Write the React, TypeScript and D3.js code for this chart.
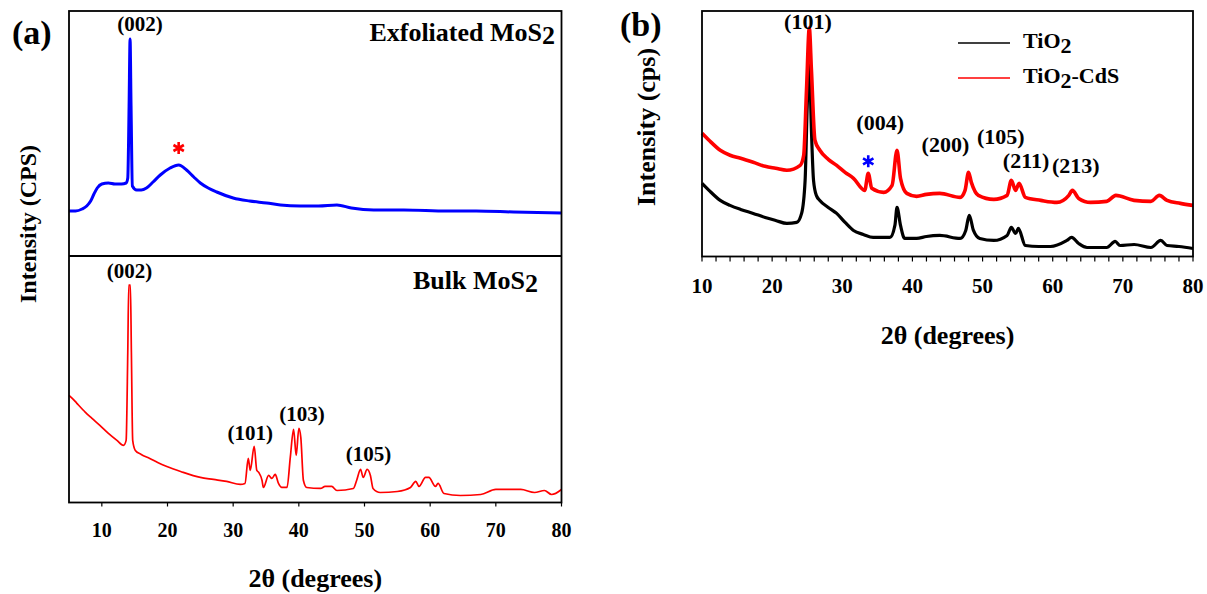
import React from "react";
import * as d3 from "d3";

// ---------- data (2θ, intensity a.u.) ----------
const exfoliatedMoS2: [number, number][] = [
  [5, 45], [6, 45], [7, 47], [7.7, 50], [8.3, 55], [8.8, 62], [9.3, 68], [10.0, 72], [11, 73], [12, 72],
  [13, 72], [13.7, 73], [13.95, 78], [14.15, 150], [14.3, 217], [14.45, 150], [14.65, 70], [15.3, 66],
  [16.0, 66], [16.8, 68], [17.8, 74], [18.9, 81], [20.4, 88], [21.7, 91], [22.9, 86], [24.0, 79], [25, 73],
  [26.2, 68], [27.5, 64], [30, 58], [32.5, 55], [35.1, 53], [37.2, 51], [40.2, 50], [43, 50], [45.8, 51],
  [48, 48], [51.4, 46], [56, 46], [62.6, 45], [67, 45], [72.7, 44], [80, 43],
];

const bulkMoS2: [number, number][] = [
  [5, 107], [5.5, 104], [6.2, 99], [7.5, 90], [8.5, 84], [9.7, 77], [11, 69], [12.3, 62], [13.3, 57],
  [13.7, 62], [13.95, 150], [14.1, 217], [14.35, 217], [14.5, 150], [14.7, 62], [15.1, 52], [16, 48],
  [17.3, 44], [18.5, 40], [19.9, 36], [22, 31], [25, 25], [27, 23], [29, 21], [31.1, 18], [31.8, 19],
  [32.3, 44], [32.6, 32], [33.2, 56], [33.6, 32], [33.9, 30], [34.4, 22], [34.6, 15], [35.4, 27], [35.9, 24],
  [36.4, 28], [36.9, 19], [37.4, 15], [38.2, 15], [38.7, 45], [39.2, 73], [39.6, 47], [40.0, 74], [40.3, 65],
  [40.7, 22], [41.2, 15], [43.3, 14], [44.0, 16], [45.0, 16], [45.8, 12], [48.3, 14], [48.8, 22], [49.4, 33],
  [49.8, 25], [50.4, 33], [50.9, 27], [51.3, 14], [52.4, 10], [55, 11], [57.0, 15], [57.8, 21], [58.3, 16],
  [59.3, 25], [59.8, 25], [60.8, 16], [61.2, 19], [62.1, 9], [64.6, 7], [67.7, 8], [70, 13], [72.3, 13],
  [73.8, 13], [75.9, 10], [77.4, 12], [78.5, 8], [80, 13],
];

const tio2: [number, number][] = [
  [10, 73], [11, 66], [12.6, 56], [14, 51], [15.5, 47], [17.3, 43], [19, 39], [20.5, 36], [22.1, 33],
  [23.5, 34], [24.2, 43], [24.7, 76], [25.0, 150], [25.3, 194], [25.6, 126], [25.9, 76], [26.3, 61],
  [26.8, 56], [28, 49], [29.2, 43], [30.4, 34], [31.6, 26], [33, 22], [34.4, 19], [36.8, 19], [37.5, 31],
  [37.8, 49], [38.3, 31], [38.9, 18], [40.6, 18], [42, 20], [43.9, 21], [46.8, 18], [47.6, 26], [48.1, 41],
  [48.7, 26], [49.6, 18], [51.6, 16], [53.5, 21], [54.1, 29], [54.7, 23], [55.1, 28], [56.1, 11], [58, 10],
  [59.7, 10], [62.0, 16], [62.7, 19], [63.7, 13], [64.9, 9], [67.7, 9], [68.9, 15], [69.6, 11], [71.6, 12],
  [74.0, 9], [75.4, 16], [76.3, 11], [78, 10], [80, 8],
];

const tio2CdS: [number, number][] = [
  [10, 123], [11, 116], [12.6, 106], [14, 101], [15.5, 98], [17.3, 94], [19, 90], [20.5, 88], [22.1, 86],
  [24.0, 91], [24.5, 101], [24.9, 166], [25.3, 228], [25.6, 186], [26.1, 116], [26.8, 106], [28, 97],
  [29.2, 91], [30.4, 84], [31.6, 78], [33.2, 66], [33.7, 83], [34.2, 68], [35.9, 64], [37.1, 71], [37.8, 106],
  [38.3, 78], [39.2, 63], [40.6, 60], [42, 62], [43.9, 63], [46.8, 59], [47.5, 66], [48.0, 84], [48.4, 74],
  [49.4, 61], [51.6, 57], [53.5, 61], [54.1, 76], [54.7, 66], [55.2, 73], [56.1, 59], [58.3, 56], [60.6, 54],
  [62.3, 61], [62.8, 66], [63.7, 58], [65.4, 54], [67.7, 55], [69.0, 61], [71.6, 56], [74.0, 55], [75.2, 61],
  [76.3, 56], [78.2, 53], [80, 51],
];

const ticksA = [10, 20, 30, 40, 50, 60, 70, 80];
const ticksB = [10, 20, 30, 40, 50, 60, 70, 80];
const minorTicksB = d3.range(10, 80.1, 2);

// peak annotations: [label, 2θ, intensity]
const labelsExf: [string, number, number][] = [["(002)", 15.8, 225]];
const labelsBulk: [string, number, number][] = [
  ["(002)", 14.2, 224],
  ["(101)", 32.6, 62],
  ["(103)", 40.5, 81],
  ["(105)", 50.6, 41],
];
const labelsB: [string, number, number][] = [
  ["(101)", 25.1, 227],
  ["(004)", 35.4, 126],
  ["(200)", 44.7, 104],
  ["(105)", 52.6, 112],
  ["(211)", 56.2, 88],
  ["(213)", 63.3, 83],
];

const FONT = "'Liberation Serif', 'Times New Roman', serif";

function asteriskPath(cx: number, cy: number, r: number) {
  const p = d3.path();
  for (let k = 0; k < 3; k++) {
    const a = (Math.PI / 3) * k + Math.PI / 2;
    p.moveTo(cx + r * Math.cos(a), cy + r * Math.sin(a));
    p.lineTo(cx - r * Math.cos(a), cy - r * Math.sin(a));
  }
  return p.toString();
}

export default function App() {
  // panel (a)
  const aL = 69, aR = 561.5, aT = 11, aM = 256, aB = 502.5;
  const xA = d3.scaleLinear().domain([5, 80]).range([aL, aR]);
  const yTop = d3.scaleLinear().domain([0, 245]).range([aM, aT]);
  const yBot = d3.scaleLinear().domain([0, 246]).range([aB, aM]);
  // panel (b)
  const bL = 702, bR = 1193, bT = 11, bB = 256.5;
  const xB = d3.scaleLinear().domain([10, 80]).range([bL, bR]);
  const yB = d3.scaleLinear().domain([0, 245]).range([bB, bT]);

  const curve = d3.curveMonotoneX;
  const lineTop = d3.line<[number, number]>().x((d) => xA(d[0])).y((d) => yTop(d[1])).curve(curve);
  const lineBot = d3.line<[number, number]>().x((d) => xA(d[0])).y((d) => yBot(d[1])).curve(curve);
  const lineB = d3.line<[number, number]>().x((d) => xB(d[0])).y((d) => yB(d[1])).curve(curve);

  const txt = { fontFamily: FONT, fontWeight: "bold" as const };

  return (
    <svg
      width={1207}
      height={594}
      style={{ position: "absolute", left: 0, top: 0, background: "#fff" }}
    >
      <rect x={0} y={0} width={1207} height={594} fill="#fff" />
      {/* ---------- Panel (a) ---------- */}
      <path d={lineTop(exfoliatedMoS2) || ""} fill="none" stroke="#0000ff" strokeWidth={3} strokeLinejoin="round" />
      <path d={lineBot(bulkMoS2) || ""} fill="none" stroke="#ff0000" strokeWidth={1.7} strokeLinejoin="round" />
      <rect x={aL} y={aT} width={aR - aL} height={aB - aT} fill="none" stroke="#000" strokeWidth={1.8} />
      <line x1={aL} x2={aR} y1={aM} y2={aM} stroke="#000" strokeWidth={1.8} />
      {ticksA.map((t) => (
        <g key={"ta" + t}>
          <line x1={xA(t)} x2={xA(t)} y1={aB} y2={aB + 4} stroke="#000" strokeWidth={1.2} />
          <text x={xA(t)} y={537} textAnchor="middle" fontSize={20} {...txt}>{t}</text>
        </g>
      ))}
      <text x={12} y={44} fontSize={34} {...txt}>(a)</text>
      <text x={555} y={41} textAnchor="end" fontSize={26} {...txt}>
        Exfoliated MoS<tspan dy={3}>2</tspan>
      </text>
      <text x={538} y={289} textAnchor="end" fontSize={26} {...txt}>
        Bulk MoS<tspan dy={3}>2</tspan>
      </text>
      {labelsExf.map(([l, x, v], i) => (
        <text key={"le" + i} x={xA(x)} y={yTop(v)} textAnchor="middle" fontSize={21} {...txt}>{l}</text>
      ))}
      {labelsBulk.map(([l, x, v], i) => (
        <text key={"lb" + i} x={xA(x)} y={yBot(v)} textAnchor="middle" fontSize={21} {...txt}>{l}</text>
      ))}
      <path d={asteriskPath(xA(21.7), yTop(108), 6)} stroke="#ff0000" strokeWidth={2.6} fill="none" />
      <text transform="translate(36,224) rotate(-90)" textAnchor="middle" fontSize={24} {...txt}>
        Intensity (CPS)
      </text>
      <text x={(aL + aR) / 2} y={587} textAnchor="middle" fontSize={26} {...txt}>2θ (degrees)</text>

      {/* ---------- Panel (b) ---------- */}
      <path d={lineB(tio2) || ""} fill="none" stroke="#000" strokeWidth={3.2} strokeLinejoin="round" />
      <path d={lineB(tio2CdS) || ""} fill="none" stroke="#ff0000" strokeWidth={3.6} strokeLinejoin="round" />
      <rect x={bL} y={bT} width={bR - bL} height={bB - bT} fill="none" stroke="#000" strokeWidth={1.8} />
      {minorTicksB.map((t) => (
        <line key={"mb" + t} x1={xB(t)} x2={xB(t)} y1={bB} y2={bB + 5} stroke="#000" strokeWidth={1.2} />
      ))}
      {ticksB.map((t) => (
        <text key={"tb" + t} x={xB(t)} y={293} textAnchor="middle" fontSize={21} {...txt}>{t}</text>
      ))}
      <text x={620} y={36} fontSize={34} {...txt}>(b)</text>
      {labelsB.map(([l, x, v], i) => (
        <text key={"lbb" + i} x={xB(x)} y={yB(v)} textAnchor="middle" fontSize={22} {...txt}>{l}</text>
      ))}
      <path d={asteriskPath(xB(33.7), yB(95), 6)} stroke="#0000ff" strokeWidth={2.6} fill="none" />
      <text transform="translate(655,127) rotate(-90)" textAnchor="middle" fontSize={26} {...txt}>
        Intensity (cps)
      </text>
      <text x={(bL + bR) / 2} y={344} textAnchor="middle" fontSize={26} {...txt}>2θ (degrees)</text>
      {/* legend */}
      <line x1={958} x2={1010} y1={43} y2={43} stroke="#000" strokeWidth={1.5} />
      <line x1={958} x2={1010} y1={78} y2={78} stroke="#ff0000" strokeWidth={1.5} />
      <text x={1023} y={48} fontSize={22} {...txt}>
        TiO<tspan dy={5}>2</tspan>
      </text>
      <text x={1023} y={83} fontSize={22} {...txt}>
        TiO<tspan dy={5}>2</tspan><tspan dy={-5}>-CdS</tspan>
      </text>
    </svg>
  );
}
